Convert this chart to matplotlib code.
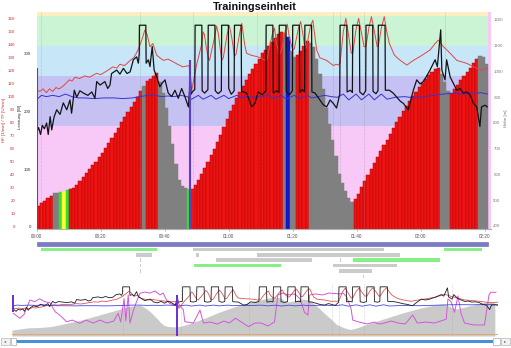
import matplotlib
matplotlib.use("Agg")
import matplotlib.pyplot as plt
from matplotlib.patches import Rectangle

plt.rcParams['font.family'] = ['Liberation Sans', 'DejaVu Sans']

# ------------------------------------------------------------------ data
# altitude [m] per minute bar (minute 0 .. 140)
alt_m = [478, 488, 498, 508, 518, 526, 528, 530, 532, 538,
         543, 548, 560, 575, 590, 605, 620, 636, 650, 666,
         684, 703, 722, 742, 762, 782, 802, 822, 842, 862,
         882, 902, 925, 945, 962, 972, 982, 995, 960, 915,
         860, 790, 720, 640, 580, 555, 548, 545, 545, 560,
         580, 600, 625, 650, 675, 700, 725, 755, 785, 815,
         845, 870, 895, 920, 945, 968, 990, 1010, 1030, 1050,
         1070, 1085, 1100, 1115, 1130, 1145, 1155, 1150, 1135, 1080,
         1055, 1065, 1080, 1100, 1118, 1110, 1095, 1050, 990, 930,
         860, 795, 735, 670, 600, 565, 535, 510, 492, 505,
         525, 550, 575, 598, 620, 645, 668, 690, 713, 735,
         758, 780, 802, 825, 845, 865, 885, 905, 922, 940,
         955, 970, 985, 998, 1008, 1012, 990, 960, 925, 915,
         930, 948, 965, 982, 998, 1015, 1032, 1050, 1062, 1058,
         1030]
# bar class per minute: r=climb, g=descent, G/y/b=marked
bar_kind = ("rrrrr" "gg" "GyG"
            "rrrrrrrrrr" "rrrrrrrrrr" "rrr"
            "g" "rrrr"
            "ggggggggg"
            "G"
            "rrrrrrrrrr" "rrrrrrrrrr" "rrrrrrrrr"
            "g" "b" "gg" "rrrr"
            "gggggggggg" "gggg"
            "rrrrrrrrrr" "rrrrrrrrrr" "rrrrrrr"
            "ggg" "rrrrrrrrr" "ggg")

# power [W]
pw_t = [0.1, 0.6, 1.2, 1.75, 2.4, 3.1, 3.6, 4.2, 4.7, 5.4,
        6.25, 7.3, 8.3, 9.4, 10.4, 10.9, 11.75, 12.5, 13.5, 14.6,
        16.0, 17.2, 18.2, 18.75, 19.8, 21.3, 22.2, 22.9, 23.4, 25.0,
        26.0, 27.1, 28.2, 29.2, 30.2, 31.25, 31.75, 32.05, 32.1, 34.1,
        34.2, 34.9, 35.4, 36.1, 36.7, 37.5, 38.5, 39.3, 40.1, 41.1,
        42.2, 43.2, 44.25, 45.3, 46.3, 47.4, 47.75, 47.9, 48.2, 48.9,
        49.4, 49.5, 51.6, 51.7, 52.5, 53.5, 53.6, 55.7, 55.8, 56.7,
        57.7, 57.8, 59.9, 60.0, 60.8, 61.7, 61.8, 63.9, 64.0, 65.6,
        66.4, 67.2, 68.2, 69.2, 70.5, 71.6, 71.7, 73.8, 73.9, 75.0,
        75.7, 75.8, 77.9, 78.0, 79.0, 79.9, 80.0, 82.1, 82.2, 83.0,
        83.7, 83.8, 85.9, 86.0, 87.0, 88.5, 89.5, 90.6, 91.7, 92.7,
        93.7, 94.7, 94.8, 96.9, 97.0, 98.0, 98.65, 98.75, 100.85, 100.95,
        102.0, 102.8, 102.9, 105.0, 105.1, 106.0, 106.65, 106.75, 108.85, 108.95,
        110.2, 111.4, 112.5, 113.6, 114.6, 116.1, 117.7, 118.75, 119.8, 120.8,
        121.9, 122.9, 124.5, 125.2, 126.25, 126.6, 127.6, 128.1, 129.2, 130.2,
        131.25, 132.3, 133.3, 134.4, 135.4, 136.5, 137.5, 138.5, 139.0, 140.1,
        140.8]
pw_w = [165, 172, 160, 176, 170, 180, 160, 191, 168, 190,
        203, 195, 215, 203, 220, 197, 237, 225, 236, 232,
        228, 234, 223, 252, 246, 252, 240, 246, 266, 272,
        265, 275, 266, 269, 290, 295, 284, 300, 350, 350,
        284, 290, 278, 313, 272, 260, 243, 250, 255, 232,
        226, 237, 223, 240, 226, 208, 237, 284, 230, 236,
        238, 350, 350, 236, 232, 238, 350, 350, 236, 231,
        236, 350, 350, 240, 230, 236, 350, 350, 235, 232,
        220, 208, 214, 234, 229, 236, 350, 350, 232, 236,
        233, 350, 350, 235, 229, 236, 350, 350, 233, 238,
        234, 350, 350, 234, 232, 220, 212, 208, 220, 214,
        206, 230, 350, 350, 234, 237, 233, 350, 350, 234,
        229, 236, 350, 350, 235, 231, 236, 350, 350, 237,
        237, 232, 225, 218, 214, 203, 237, 255, 248, 252,
        262, 272, 290, 278, 342, 272, 255, 290, 260, 249,
        237, 240, 232, 234, 229, 214, 208, 174, 208, 211,
        208]

# heart rate [1/min]
hf_t = [0.1, 1.0, 2.0, 3.0, 4.0, 5.0, 6.0, 7.0, 8.2, 9.0,
        10.2, 11.0, 12.0, 13.4, 15.0, 16.5, 18.7, 20.0, 22.0, 23.8,
        25.0, 26.0, 27.5, 29.2, 30.3, 31.25, 32.0, 33.0, 33.8, 34.5,
        35.4, 36.3, 37.5, 38.5, 39.6, 41.0, 42.6, 44.0, 45.7, 47.6,
        47.9, 48.4, 49.0, 50.0, 51.5, 52.0, 52.4, 53.0, 53.6, 54.0,
        55.5, 56.2, 56.8, 57.8, 58.3, 59.5, 60.2, 61.0, 61.8, 62.3,
        63.5, 64.1, 65.0, 65.6, 67.0, 68.7, 70.0, 71.3, 72.0, 73.6,
        74.3, 75.0, 75.8, 76.3, 77.6, 78.3, 79.0, 80.0, 80.5, 81.8,
        82.5, 83.2, 83.8, 84.3, 85.6, 86.3, 87.0, 87.5, 88.5, 90.6,
        92.7, 93.5, 94.2, 94.8, 95.8, 96.6, 97.3, 98.3, 98.8, 99.8,
        100.6, 101.4, 102.3, 102.9, 103.8, 104.6, 105.4, 106.4, 106.75, 107.7,
        108.6, 109.4, 110.2, 111.8, 113.6, 115.7, 117.7, 119.8, 122.9, 124.5,
        125.5, 127.1, 129.2, 131.3, 134.4, 136.5, 138.6, 140.8]
hf_v = [105, 104, 106, 103, 106, 104, 107, 106, 108, 110,
        113, 112, 115, 114, 116, 115, 118, 117, 120, 123,
        122, 125, 124, 128, 130, 134, 138, 145, 151.5, 148,
        138.6, 141, 132, 130, 128, 129, 127, 125, 123, 124,
        118, 105, 112, 125, 140, 150, 148, 138, 130, 128,
        145, 154.6, 148, 128, 130, 148, 155, 145, 131, 133,
        150, 156.6, 140, 133.5, 132, 131, 130, 128, 129, 148,
        153, 140, 133, 134, 150, 156, 145, 136, 137, 153,
        158, 148, 137, 138, 155, 159, 145, 136, 130, 128,
        124, 125, 124.4, 126, 150, 160.5, 150, 133.5, 134, 152,
        160.5, 150, 138.6, 139, 153, 161.8, 152, 138.6, 139, 153,
        161.8, 150, 141, 132, 128, 124.4, 128, 131, 136, 141,
        143.7, 138.6, 133.5, 128, 125.7, 123, 120.6, 122]

# cadence [U/min]
tf_t = [0.1, 1.5, 3.0, 5.0, 7.0, 9.0, 11.0, 13.0, 15.0, 18.0,
        21.0, 24.0, 27.0, 30.0, 32.0, 33.5, 35.0, 37.0, 39.0, 41.0,
        43.0, 45.0, 47.0, 48.4, 50.5, 52.0, 54.5, 56.0, 58.5, 60.0,
        62.5, 64.0, 66.0, 68.0, 70.0, 72.5, 74.0, 76.5, 78.0, 80.5,
        82.0, 84.5, 86.0, 88.0, 90.0, 92.0, 94.0, 95.8, 97.5, 99.8,
        101.5, 103.8, 105.5, 107.7, 109.5, 112.0, 115.0, 118.0, 121.0, 124.0,
        127.0, 130.0, 133.0, 136.0, 139.0, 140.8]
tf_v = [98, 101, 100, 101, 100, 102, 100, 99, 99, 98.5,
        99, 99, 98.5, 99, 100, 100.5, 101, 101, 100, 100.5,
        100, 101, 100, 98, 101, 98, 101, 98, 101, 98.5,
        101, 99, 100, 99.5, 100, 101, 98.5, 101, 98, 101,
        98.5, 101, 99, 100, 101, 100, 99.5, 102, 97.5, 102,
        97.5, 102, 97.5, 102, 98, 99.5, 100, 99, 100, 101,
        102, 102.5, 102, 102.5, 103, 102]

# speed [km/h] (overview only)
sp_t = [0.4, 1.5, 2.3, 3.5, 5.2, 6.5, 8, 9.5, 11, 12.5,
        13.9, 15.8, 17.5, 19.7, 21.5, 23.5, 25.5, 27.5, 29.5, 30.8,
        31.5, 32.5, 33.0, 33.7, 34.2, 35.2, 36.2, 37.1, 38.5, 40,
        41.5, 42.9, 43.8, 44.8, 45.8, 47.2, 47.7, 48.7, 49.7, 50.1,
        52.6, 54.5, 55.5, 57.5, 59.5, 61.5, 63, 64.8, 66.5, 68.6,
        70.4, 72.2, 74.2, 76.1, 77.1, 78.5, 80, 82, 83.5, 84.8,
        85.8, 86.3, 88, 90, 92, 95, 96, 97, 98.3, 98.8,
        100.7, 103, 105, 106.5, 108, 110, 112, 114, 116.2, 117.5,
        120, 122.5, 125.9, 126.4, 127.3, 128.3, 129.3, 130.2, 131.2, 134,
        137, 138.3, 138.8, 140.3]
sp_v = [25, 22, 19.9, 24, 38.8, 37, 40, 37, 36, 26.7,
        23, 16.4, 18, 14.7, 18, 15, 18, 15, 17, 25,
        16, 40, 17, 44, 15, 28, 38, 45.7, 47, 46,
        48, 44, 46, 38.8, 35, 33.6, 38, 33, 28.4, 16.4,
        15, 28.4, 15, 16, 14, 17, 15, 20, 16, 11.2,
        15, 15, 12, 16, 44, 46, 44, 45, 40, 26,
        23.3, 44, 45, 44, 46, 45, 46, 42, 30, 18,
        16, 14, 16, 14, 15, 17, 15, 14, 23.3, 15,
        16, 15, 19, 40, 37, 26, 43, 25, 15, 13,
        13, 44, 46.7, 46.7]

# marker spikes (power axis)
spike_t = [0.15, 47.95]
spike_w = [275, 290]
ov_spike_lo = [157, -30]
ov_spike_hi = [288, 288]

# lap markers [min]
lap_marks = [1.3, 32.3, 48.9, 68.8, 92.7, 94.8, 102.2, 127.6]

# heart-rate zones
zone_lo = [-10, 77.5, 116, 139.5, 162.5]
zone_hi = [77.5, 116, 139.5, 162.5, 175]
zone_colors = ['#f8c8f6', '#c5c1f2', '#c7e6f8', '#caf4d3', '#fbefc2']

# segment rows below the chart
session_start, session_end = 0.0, 141.0
seg_row = [1, 1, 1, 2, 2, 2, 3, 3, 3, 3, 4, 4, 4, 5, 5, 6]
seg_start = [1.35, 48.9, 127.4, 31.0, 49.8, 68.8, 32.2, 56.0, 94.7, 98.8,
             32.2, 49.2, 92.5, 32.2, 94.6, 102.0]
seg_end = [37.7, 108.6, 139.0, 36.0, 50.8, 113.5, 32.5, 86.0, 95.0, 125.9,
           32.5, 76.3, 112.5, 32.5, 104.7, 102.3]
seg_kind = ['G', 'g', 'G', 'g', 'g', 'g', 'g', 'g', 'g', 'G',
            'g', 'G', 'g', 'g', 'g', 'g']

xtick_min = [0, 20, 40, 60, 80, 100, 120, 140]
xtick_lab = ['00:00', '00:20', '00:40', '01:00', '01:20', '01:40', '02:00', '02:20']
hf_ticks = [0, 10, 20, 30, 40, 50, 60, 70, 80, 90, 100, 110, 120, 130, 140, 150, 160]
pw_ticks = [0, 100, 200, 300]
alt_ticks = [400, 500, 600, 700, 800, 900, 1000, 1100, 1200]

# ------------------------------------------------------------------ figure
W, H, DPI = 511, 348, 100
fig = plt.figure(figsize=(W / DPI, H / DPI), dpi=DPI)
fig.patch.set_facecolor('white')


def rect(x0, y0, x1, y1):
    return [x0 / W, 1 - y1 / H, (x1 - x0) / W, (y1 - y0) / H]


def clean(ax):
    for s in ax.spines.values():
        s.set_visible(False)


kind_color = {'r': '#ee1414', 'g': '#808080', 'G': '#33dd33', 'y': '#ffff33', 'b': '#1515d0'}
kind_edge = {'r': '#b80000', 'g': '#808080', 'G': '#33dd33', 'y': '#ffff33', 'b': '#1515d0'}
row_color = {'G': '#86f086', 'g': '#cbcbcb'}

# --- main chart
ax_z = fig.add_axes(rect(36.7, 12, 490.8, 229))
ax_z.set_xlim(0, 141.9)
ax_z.set_ylim(-2.3, 165.4)
for lo, hi, c in zip(zone_lo, zone_hi, zone_colors):
    ax_z.axhspan(lo, hi, color=c, lw=0)
ax_z.axvspan(141.0, 141.9, color='#f8c8f6', lw=0)
clean(ax_z)
ax_z.set_yticks([])
ax_z.set_xticks(xtick_min)
ax_z.set_xticklabels(xtick_lab)
ax_z.tick_params(axis='x', length=1.6, width=0.5, color='#909090', pad=2.2,
                 labelsize=3.3, labelcolor='#505050')

ax_alt = ax_z.twinx()
ax_alt.set_ylim(388, 1231)
idx = list(range(len(alt_m)))
ax_alt.bar(idx, alt_m, width=1.0, align='edge',
           color=[kind_color[k] for k in bar_kind],
           edgecolor=[kind_edge[k] for k in bar_kind], linewidth=0.35)
clean(ax_alt)
ax_alt.set_yticks(alt_ticks)
ax_alt.tick_params(axis='y', length=0, pad=1.8, labelsize=3.2, labelcolor='#808080')

ax_hf = ax_z.twinx()
ax_hf.set_ylim(-2.3, 165.4)
for t in lap_marks:
    ax_hf.axvline(t, color='#8a8a8a', lw=0.4, ls=(0, (1, 1.5)), alpha=0.8)
ax_hf.plot(tf_t, tf_v, color='#3434d4', lw=0.7)
ax_hf.plot(hf_t, hf_v, color='#e04646', lw=0.7)
clean(ax_hf)
ax_hf.yaxis.tick_left()
ax_hf.set_yticks(hf_ticks)
ax_hf.tick_params(axis='y', length=0, pad=15.6, labelsize=3.2, labelcolor='#c83030')

ax_pw = ax_z.twinx()
ax_pw.set_ylim(-4.3, 373)
ax_pw.plot(pw_t, pw_w, color='#101418', lw=0.9)
ax_pw.vlines(spike_t, -4.3, spike_w, colors='#5a3ccf', lw=1.5)
clean(ax_pw)
ax_pw.spines['bottom'].set_visible(True)
ax_pw.spines['bottom'].set_color('#b0b0b0')
ax_pw.spines['bottom'].set_linewidth(0.8)
ax_pw.yaxis.tick_left()
ax_pw.set_yticks(pw_ticks)
ax_pw.tick_params(axis='y', length=0, pad=4.1, labelsize=3.2, labelcolor='#303030')

# titles / axis labels
fig.text(255 / W, 1 - 6.5 / H, 'Trainingseinheit', ha='center', va='center',
         fontsize=7.8, fontweight='bold', color='#111111')
fig.text(4.5 / W, 1 - 120 / H, 'HF [1/min] / TF [U/min]', rotation=90,
         ha='center', va='center', fontsize=3.2, color='#c83030')
fig.text(20.5 / W, 1 - 117 / H, 'Leistung [W]', rotation=90,
         ha='center', va='center', fontsize=3.2, color='#303030')
fig.text(506 / W, 1 - 118 / H, 'Höhe [m]', rotation=90,
         ha='center', va='center', fontsize=3.2, color='#707070')

# --- segment rows
ax_r = fig.add_axes(rect(36.7, 241, 490.8, 279))
ax_r.set_xlim(0, 141.9)
ax_r.set_ylim(6.48, -0.556)
ax_r.axis('off')
ax_r.barh(0, session_end - session_start, left=session_start, height=0.74,
          color='#7c7cc6', edgecolor='#6262b2', lw=0.4)
for r, s, e, k in zip(seg_row, seg_start, seg_end, seg_kind):
    ax_r.barh(r, e - s, left=s, height=0.68, color=row_color[k], lw=0)

# --- overview
ax_o = fig.add_axes(rect(12, 284, 498.3, 336))
ax_o.set_xlim(0, 141)
ax_o.set_ylim(357, 1425)
ax_o.axis('off')
ax_o.fill_between(idx, alt_m, 357, color='#cacaca', lw=0)
for t in lap_marks[1:]:
    ax_o.axvline(t, color='#a0a0a0', lw=0.4, ls=(0, (1, 1.5)), alpha=0.8)
ax_o.plot([0, 1], [0.033, 0.033], transform=ax_o.transAxes, color='#e4a862', lw=0.7)

ax_os = ax_o.twinx()
ax_os.set_ylim(1.6, 55.3)
ax_os.axis('off')
ax_os.plot(sp_t, sp_v, color='#d456da', lw=0.7)

ax_oh = ax_o.twinx()
ax_oh.set_ylim(29, 172)
ax_oh.axis('off')
ax_oh.plot(hf_t, hf_v, color='#e05454', lw=0.6)

ax_ot = ax_o.twinx()
ax_ot.set_ylim(0, 170)
ax_ot.axis('off')
ax_ot.plot(tf_t, tf_v, color='#4646e0', lw=0.6)

ax_op = ax_o.twinx()
ax_op.set_ylim(-31, 372)
ax_op.axis('off')
ax_op.plot(pw_t, pw_w, color='#1c1c22', lw=0.6)
ax_op.vlines(spike_t, ov_spike_lo, ov_spike_hi, colors='#6a2fd0', lw=1.4)

# --- scrollbar
def frect(x0, y0, x1, y1, **kw):
    fig.patches.append(Rectangle((x0 / W, 1 - y1 / H), (x1 - x0) / W, (y1 - y0) / H,
                                 transform=fig.transFigure, figure=fig, **kw))


frect(1, 337.5, 10, 345, facecolor='#f2f2f2', edgecolor='#b8b8b8', lw=0.5)
frect(501, 337.5, 510, 345, facecolor='#f2f2f2', edgecolor='#b8b8b8', lw=0.5)
frect(16, 340, 493, 342.8, facecolor='#4a8fd8', edgecolor='none')
frect(11, 338, 16, 345, facecolor='white', edgecolor='#a8a8a8', lw=0.5)
frect(493, 338, 500, 345, facecolor='white', edgecolor='#a8a8a8', lw=0.5)
fig.text(5.5 / W, 1 - 341.3 / H, '◂', ha='center', va='center', fontsize=3,
         color='#606060', family='DejaVu Sans')
fig.text(505.5 / W, 1 - 341.3 / H, '▸', ha='center', va='center', fontsize=3,
         color='#606060', family='DejaVu Sans')

fig.savefig('out.png', dpi=DPI)
